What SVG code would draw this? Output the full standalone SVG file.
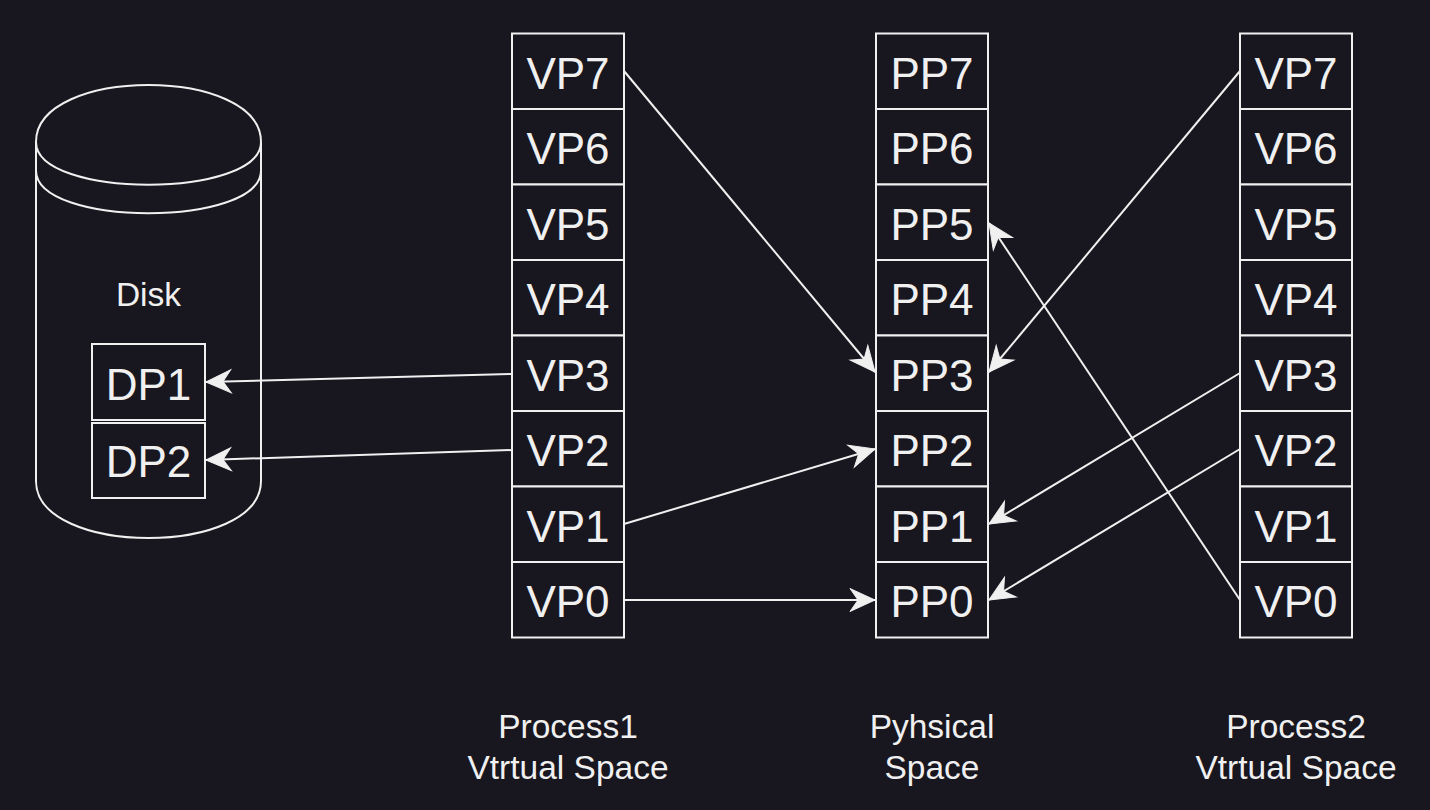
<svg xmlns="http://www.w3.org/2000/svg" width="1430" height="810" viewBox="0 0 1430 810">
<style>
.bx{fill:#18161e;stroke:#f0f0f0;stroke-width:2}
.t{font-family:"Liberation Sans",Arial,sans-serif;font-size:44px;fill:#f0f0f0;text-anchor:middle}
.s{font-family:"Liberation Sans",Arial,sans-serif;font-size:33.5px;fill:#f0f0f0;text-anchor:middle}
.ln{fill:none;stroke:#f0f0f0;stroke-width:2}
.c{fill:none;stroke:#f0f0f0;stroke-width:2}
</style>
<defs>
<marker id="ah" viewBox="-27 -14 29 28" refX="0" refY="0" markerWidth="29" markerHeight="28" markerUnits="userSpaceOnUse" orient="auto">
<path d="M0,0 L-25,-11.5 L-17,0 L-25,11.5 Z" fill="#f0f0f0" stroke="#f0f0f0" stroke-width="1"/>
</marker>
</defs>
<rect width="1430" height="810" fill="#18161e"/>
<g id="disk">
<path class="c" d="M36,142 C36,66 261,66 261,142 L261,481 C261,557 36,557 36,481 Z" fill="#18161e"/>
<path class="c" d="M36,142 C36,199 261,199 261,142"/>
<path class="c" d="M36,170.5 C36,227.5 261,227.5 261,170.5"/>
<text class="s" x="148.5" y="306">Disk</text>
</g>
<g id="dp1"><rect class="bx" x="92" y="344" width="113" height="76"/><text class="t" x="148.5" y="399.5">DP1</text></g>
<g id="dp2"><rect class="bx" x="92" y="423" width="113" height="75"/><text class="t" x="148.5" y="477">DP2</text></g>

<g id="p1">
<g id="p1-vp7"><rect class="bx" x="512" y="33.5" width="112" height="75.5"/><text class="t" x="568" y="88.5">VP7</text></g>
<g id="p1-vp6"><rect class="bx" x="512" y="109" width="112" height="75.5"/><text class="t" x="568" y="164">VP6</text></g>
<g id="p1-vp5"><rect class="bx" x="512" y="184.5" width="112" height="75.5"/><text class="t" x="568" y="239.5">VP5</text></g>
<g id="p1-vp4"><rect class="bx" x="512" y="260" width="112" height="75.5"/><text class="t" x="568" y="315">VP4</text></g>
<g id="p1-vp3"><rect class="bx" x="512" y="335.5" width="112" height="75.5"/><text class="t" x="568" y="390.5">VP3</text></g>
<g id="p1-vp2"><rect class="bx" x="512" y="411" width="112" height="75.5"/><text class="t" x="568" y="466">VP2</text></g>
<g id="p1-vp1"><rect class="bx" x="512" y="486.5" width="112" height="75.5"/><text class="t" x="568" y="541.5">VP1</text></g>
<g id="p1-vp0"><rect class="bx" x="512" y="562" width="112" height="75.5"/><text class="t" x="568" y="617">VP0</text></g>
</g>

<g id="pm">
<g id="pp7"><rect class="bx" x="876" y="33.5" width="112" height="75.5"/><text class="t" x="932" y="88.5">PP7</text></g>
<g id="pp6"><rect class="bx" x="876" y="109" width="112" height="75.5"/><text class="t" x="932" y="164">PP6</text></g>
<g id="pp5"><rect class="bx" x="876" y="184.5" width="112" height="75.5"/><text class="t" x="932" y="239.5">PP5</text></g>
<g id="pp4"><rect class="bx" x="876" y="260" width="112" height="75.5"/><text class="t" x="932" y="315">PP4</text></g>
<g id="pp3"><rect class="bx" x="876" y="335.5" width="112" height="75.5"/><text class="t" x="932" y="390.5">PP3</text></g>
<g id="pp2"><rect class="bx" x="876" y="411" width="112" height="75.5"/><text class="t" x="932" y="466">PP2</text></g>
<g id="pp1"><rect class="bx" x="876" y="486.5" width="112" height="75.5"/><text class="t" x="932" y="541.5">PP1</text></g>
<g id="pp0"><rect class="bx" x="876" y="562" width="112" height="75.5"/><text class="t" x="932" y="617">PP0</text></g>
</g>

<g id="p2">
<g id="p2-vp7"><rect class="bx" x="1240" y="33.5" width="112" height="75.5"/><text class="t" x="1296" y="88.5">VP7</text></g>
<g id="p2-vp6"><rect class="bx" x="1240" y="109" width="112" height="75.5"/><text class="t" x="1296" y="164">VP6</text></g>
<g id="p2-vp5"><rect class="bx" x="1240" y="184.5" width="112" height="75.5"/><text class="t" x="1296" y="239.5">VP5</text></g>
<g id="p2-vp4"><rect class="bx" x="1240" y="260" width="112" height="75.5"/><text class="t" x="1296" y="315">VP4</text></g>
<g id="p2-vp3"><rect class="bx" x="1240" y="335.5" width="112" height="75.5"/><text class="t" x="1296" y="390.5">VP3</text></g>
<g id="p2-vp2"><rect class="bx" x="1240" y="411" width="112" height="75.5"/><text class="t" x="1296" y="466">VP2</text></g>
<g id="p2-vp1"><rect class="bx" x="1240" y="486.5" width="112" height="75.5"/><text class="t" x="1296" y="541.5">VP1</text></g>
<g id="p2-vp0"><rect class="bx" x="1240" y="562" width="112" height="75.5"/><text class="t" x="1296" y="617">VP0</text></g>
</g>

<g id="connectors">
<line class="ln" x1="624" y1="71" x2="875" y2="372" marker-end="url(#ah)"/>
<line class="ln" x1="1240" y1="71" x2="989" y2="372" marker-end="url(#ah)"/>
<line class="ln" x1="1240" y1="600" x2="989" y2="223" marker-end="url(#ah)"/>
<line class="ln" x1="1240" y1="373" x2="989" y2="524" marker-end="url(#ah)"/>
<line class="ln" x1="1240" y1="449" x2="989" y2="600" marker-end="url(#ah)"/>
<line class="ln" x1="624" y1="524" x2="875" y2="449" marker-end="url(#ah)"/>
<line class="ln" x1="624" y1="600" x2="875" y2="600" marker-end="url(#ah)"/>
<line class="ln" x1="512" y1="374" x2="206" y2="382" marker-end="url(#ah)"/>
<line class="ln" x1="512" y1="450" x2="206" y2="460" marker-end="url(#ah)"/>
</g>

<g id="labels">
<text class="s" x="568" y="737.5">Process1</text>
<text class="s" x="568" y="778.5">Vtrtual Space</text>
<text class="s" x="932" y="737.5">Pyhsical</text>
<text class="s" x="932" y="778.5">Space</text>
<text class="s" x="1296" y="737.5">Process2</text>
<text class="s" x="1296" y="778.5">Vtrtual Space</text>
</g>
</svg>
